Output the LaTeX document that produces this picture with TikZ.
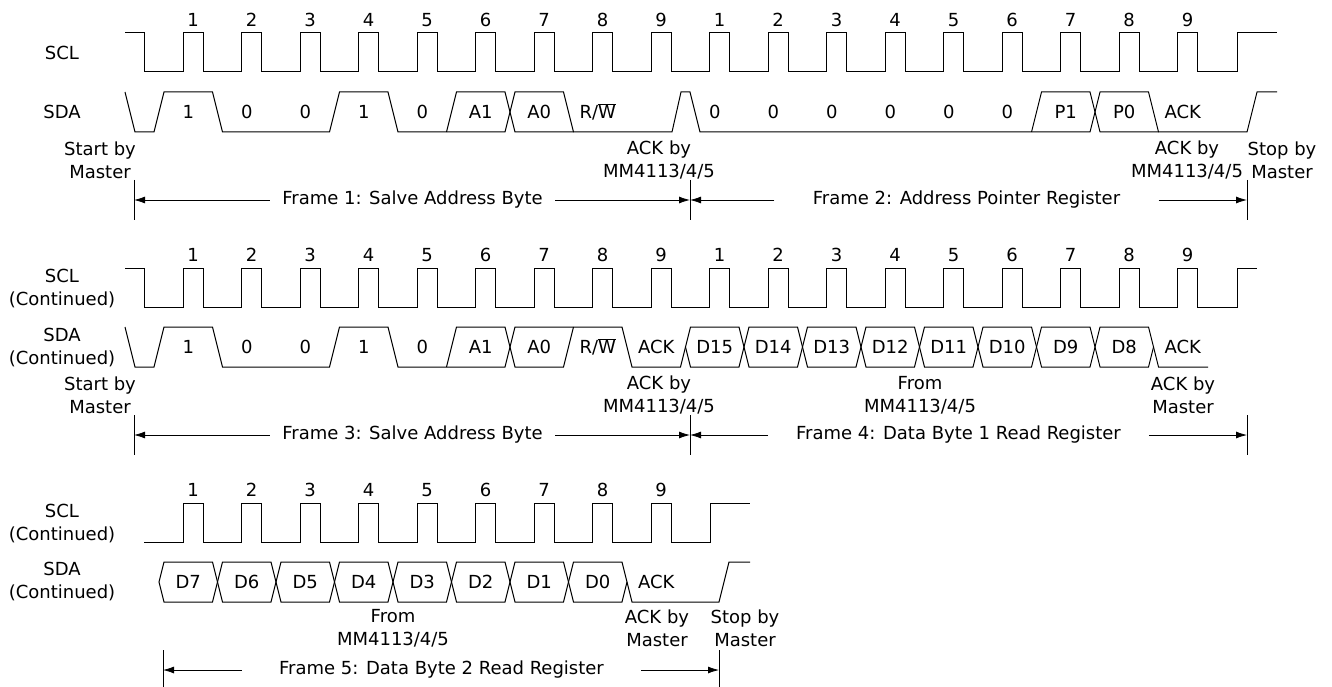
\documentclass[tikz,border=0pt]{standalone}
\usepackage{fontspec}
\setmainfont{DejaVu Sans}
\usepackage{tikz}
\usetikzlibrary{arrows.meta,calc,positioning}

\tikzset{
  twoline/.style={align=center, inner sep=0pt},
  bar/.style={line width=0.8pt},
  framearrow/.style={->, line width=0.8pt},
}

\begin{document}
\begin{tikzpicture}[x=1pt, y=-1pt, line width=1pt, >={Latex[length=11pt,width=7pt]},
  font=\fontsize{18}{23}\selectfont]

\useasboundingbox (0,0) rectangle (1332,687);

% the first row: address byte and pointer

    \begin{scope}
    \node (scl1) at (62,53) {SCL};
    \node (sda1) at (62,112) {SDA};

    \draw (125,33) -- (144,33) -- (144,72)
      \foreach \k in {0,...,17}{ -- ({183+\k*58.5},72) -- ++(0,-39) -- ++(20,0) -- ++(0,39) }
      -- (1237,72) -- (1237,33) -- (1277,33);
    \foreach \k in {0,...,17}{
      \pgfmathtruncatemacro\clk{mod(\k,9)+1}
      \node (clk1-\k) at ({193+\k*58.5},20) {\clk};
    }

    \draw (125,92) -- (135,132) -- (154,132) -- (164,92) -- (212.5,92) -- (222.5,132)
      -- (329.5,132) -- (339.5,92) -- (388,92) -- (398,132) -- (505,132) -- (515,92)
      -- (563.5,92) -- (573.5,132) -- (672,132) -- (681,92) -- (690,92) -- (700,132)
      -- (1090,132) -- (1100,92) -- (1148.5,92) -- (1158.5,132) -- (1247,132)
      -- (1257,92) -- (1277,92);
    \draw (446.5,132) -- (456.5,92) -- (505,92) -- (515,132) -- (573.5,132);
    \draw (1031.5,132) -- (1041.5,92) -- (1090,92) -- (1100,132) -- (1158.5,132);

    \foreach \b [count=\k] in {1,0,0,1,0,A1,A0,{R/$\overline{\mbox{W}}$}}
      \node (bit1-\k) at ({188.25+(\k-1)*58.5},112) {\b};
    \foreach \b [count=\k from 10] in {0,0,0,0,0,0,P1,P0,ACK}
      \node (bit1-\k) at ({188.25+(\k-1)*58.5},112) {\b};

    \node[twoline] (start1) at (100,160) {Start by\\Master};
    \node[twoline] (ack1a) at (659,160) {ACK by\\MM4113/4/5};
    \node[twoline] (ack1b) at (1187,160) {ACK by\\MM4113/4/5};
    \node[twoline] (stop1) at (1282,160) {Stop by\\Master};

    \draw[bar] (134,180) -- (134,220);
    \draw[bar] (690,180) -- (690,220);
    \draw[bar] (1247,180) -- (1247,220);
    \coordinate (bar1a) at (134,200);
    \coordinate (bar1b) at (690,200);
    \coordinate (bar1c) at (1247,200);

    \node[inner xsep=12pt] (frame1) at (412.5,200) {Frame 1: Salve Address Byte};
    \draw[framearrow] (frame1.west) -- (bar1a);
    \draw[framearrow] (frame1.east) -- (bar1b);
    \node[inner xsep=38pt] (frame2) at (966.5,200) {Frame 2: Address Pointer Register};
    \draw[framearrow] (frame2.west) -- (bar1b);
    \draw[framearrow] (frame2.east) -- (bar1c);
    \end{scope}

% the second row: address byte and data byte 1

    \begin{scope}[yshift=-235pt]
    \node[twoline] (scl2) at (62,54) {SCL\\(Continued)};
    \node[twoline] (sda2) at (62,113) {SDA\\(Continued)};

    \draw (125,33) -- (144,33) -- (144,72)
      \foreach \k in {0,...,17}{ -- ({183+\k*58.5},72) -- ++(0,-39) -- ++(20,0) -- ++(0,39) }
      -- (1237,72) -- (1237,33) -- (1257,33);
    \foreach \k in {0,...,17}{
      \pgfmathtruncatemacro\clk{mod(\k,9)+1}
      \node (clk2-\k) at ({193+\k*58.5},20) {\clk};
    }

    \draw (125,92) -- (135,132) -- (154,132) -- (164,92) -- (212.5,92) -- (222.5,132)
      -- (329.5,132) -- (339.5,92) -- (388,92) -- (398,132) -- (505,132) -- (515,92)
      -- (622,92) -- (632,132) -- (680.5,132) -- (685.5,112);
    \draw (446.5,132) -- (456.5,92) -- (505,92) -- (515,132) -- (563.5,132) -- (573.5,92);
    \foreach \k in {10,...,17}{
      \pgfmathsetmacro\xa{159+(\k-1)*58.5}
      \draw ({\xa},112) -- ++(5,-20) -- ++(48.5,0) -- ++(5,20) -- ++(-5,20) -- ++(-48.5,0) -- cycle;
    }
    \draw (1153.5,112) -- (1158.5,132) -- (1208,132);

    \foreach \b [count=\k] in {1,0,0,1,0,A1,A0,{R/$\overline{\mbox{W}}$},ACK,D15,D14,D13,D12,D11,D10,D9,D8,ACK}
      \node (bit2-\k) at ({188.25+(\k-1)*58.5},112) {\b};

    \node[twoline] (start2) at (100,160) {Start by\\Master};
    \node[twoline] (ack2a) at (659,160) {ACK by\\MM4113/4/5};
    \node[twoline] (from2) at (920,160) {From\\MM4113/4/5};
    \node[twoline] (ack2b) at (1183,160) {ACK by\\Master};

    \draw[bar] (134,180) -- (134,220);
    \draw[bar] (690,180) -- (690,220);
    \draw[bar] (1247,180) -- (1247,220);
    \coordinate (bar2a) at (134,200);
    \coordinate (bar2b) at (690,200);
    \coordinate (bar2c) at (1247,200);

    \node[inner xsep=12pt] (frame3) at (412.5,200) {Frame 3: Salve Address Byte};
    \draw[framearrow] (frame3.west) -- (bar2a);
    \draw[framearrow] (frame3.east) -- (bar2b);
    \node[inner xsep=27.5pt] (frame4) at (958.5,200) {Frame 4: Data Byte 1 Read Register};
    \draw[framearrow] (frame4.west) -- (bar2b);
    \draw[framearrow] (frame4.east) -- (bar2c);
    \end{scope}

% the third row: data byte 2

    \begin{scope}[yshift=-470pt]
    \node[twoline] (scl3) at (62,54) {SCL\\(Continued)};
    \node[twoline] (sda3) at (62,112) {SDA\\(Continued)};

    \draw (144,72)
      \foreach \k in {0,...,8}{ -- ({183+\k*58.5},72) -- ++(0,-39) -- ++(20,0) -- ++(0,39) }
      -- (710,72) -- (710,33) -- (750,33);
    \foreach \k in {0,...,8}{
      \pgfmathtruncatemacro\clk{\k+1}
      \node (clk3-\k) at ({193+\k*58.5},20) {\clk};
    }

    \foreach \k in {1,...,8}{
      \pgfmathsetmacro\xa{159+(\k-1)*58.5}
      \draw ({\xa},112) -- ++(5,-20) -- ++(48.5,0) -- ++(5,20) -- ++(-5,20) -- ++(-48.5,0) -- cycle;
    }
    \draw (627,112) -- (632,132) -- (719,132) -- (729,92) -- (750,92);

    \foreach \b [count=\k] in {D7,D6,D5,D4,D3,D2,D1,D0,ACK}
      \node (bit3-\k) at ({188.25+(\k-1)*58.5},112) {\b};

    \node[twoline] (from3) at (393,158) {From\\MM4113/4/5};
    \node[twoline] (ack3) at (657,158) {ACK by\\Master};
    \node[twoline] (stop3) at (745,158) {Stop by\\Master};

    \draw[bar] (163,180) -- (163,217);
    \draw[bar] (719,180) -- (719,217);
    \coordinate (bar3a) at (163,200);
    \coordinate (bar3b) at (719,200);

    \node[inner xsep=37pt] (frame5) at (441.5,200) {Frame 5: Data Byte 2 Read Register};
    \draw[framearrow] (frame5.west) -- (bar3a);
    \draw[framearrow] (frame5.east) -- (bar3b);
    \end{scope}

\end{tikzpicture}
\end{document}
